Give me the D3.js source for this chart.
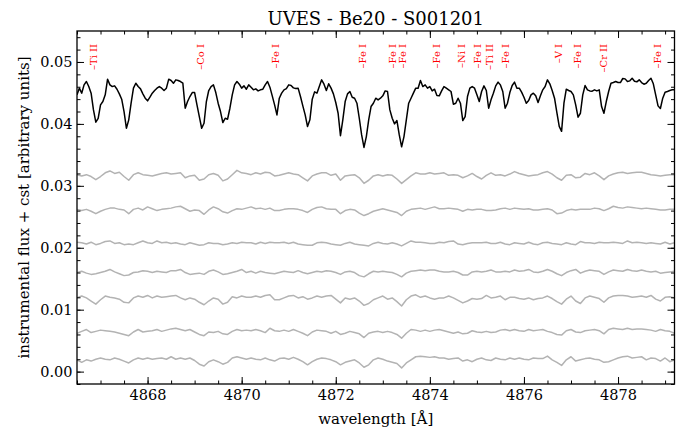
<!DOCTYPE html>
<html><head><meta charset="utf-8">
<script src="https://cdn.jsdelivr.net/npm/d3@7"></script>
<style>body{margin:0;background:#fff} svg text{font-family:"DejaVu Serif",serif}</style>
</head><body><svg id="c" width="686" height="430"></svg>
<script>
// ---- data ----
const titleText = "UVES - Be20 - S001201";
const xLabelText = "wavelength [Å]";
const yLabelText = "instrumental flux + cst [arbitrary units]";
const xMajorTicks = [4868, 4870, 4872, 4874, 4876, 4878];
const yMajorTicks = [0.00, 0.01, 0.02, 0.03, 0.04, 0.05];
const xDomain = [4866.5, 4879.2];
const yDomain = [-0.002, 0.055];

// sampling grids (start, step) of the spectra
const meanStart = 4866.5, meanStep = 0.05;
const expStart = 4866.5, expStep = 0.1;

const lineNames = ["Ti II","Co I","Fe I","Fe I","Fe I","Fe I","Fe I","Ni I","Fe I","Ti II","Fe I","V I","Fe I","Cr II","Fe I"];
const lineWaves = [4866.86,4869.13,4870.72,4872.56,4873.20,4873.41,4874.14,4874.68,4875.02,4875.26,4875.60,4876.74,4877.13,4877.69,4878.84];
const labelTop = 0.0529;

const meanFlux = [
0.04469,0.04577,0.04496,0.0463,0.04684,0.04603,0.04496,0.04226,0.04027,0.04091,
0.04307,0.04361,0.04469,0.04722,0.0463,0.04603,0.04614,0.0456,0.04485,0.04399,
0.04199,0.0393,0.04065,0.04334,0.04577,0.04657,0.04603,0.04566,0.04485,0.04415,
0.04372,0.04431,0.04496,0.04539,0.04577,0.04603,0.04577,0.04539,0.04577,0.04722,
0.04701,0.04657,0.04711,0.04701,0.04684,0.04657,0.04253,0.04361,0.04442,0.04506,
0.04506,0.04307,0.04118,0.0393,0.04011,0.04361,0.04539,0.04603,0.0463,0.04506,
0.04334,0.04199,0.04021,0.04091,0.04075,0.04253,0.04469,0.0463,0.04684,0.04641,
0.04577,0.04614,0.0456,0.0463,0.04593,0.0455,0.04566,0.04533,0.0455,0.0456,
0.0463,0.04684,0.04593,0.04453,0.04307,0.04145,0.04415,0.04496,0.0455,0.04571,
0.0463,0.0462,0.04582,0.04571,0.04577,0.04442,0.04291,0.04145,0.03957,0.04065,
0.04399,0.04517,0.04496,0.04603,0.04711,0.04641,0.04539,0.04647,0.04577,0.04485,
0.04345,0.04172,0.0381,0.04065,0.04361,0.04485,0.04523,0.04431,0.04415,0.04334,
0.04091,0.03822,0.0362,0.03795,0.04065,0.0428,0.04334,0.04415,0.04388,0.04415,
0.04453,0.04533,0.04523,0.04226,0.04091,0.04,0.04054,0.03822,0.0363,0.03795,
0.04065,0.04334,0.04415,0.04496,0.04577,0.04577,0.04701,0.04603,0.0463,0.04577,
0.04603,0.04533,0.0456,0.04458,0.04453,0.04533,0.04603,0.04577,0.0455,0.04523,
0.04318,0.04334,0.04415,0.04334,0.04054,0.04118,0.04442,0.04577,0.04603,0.04577,
0.04469,0.04361,0.04523,0.04614,0.04539,0.04253,0.04388,0.04496,0.04614,0.04674,
0.0463,0.04523,0.04253,0.04334,0.04506,0.0462,0.04674,0.04577,0.04577,0.04512,
0.04431,0.04334,0.04377,0.04469,0.04496,0.04453,0.04345,0.04453,0.0455,0.04603,
0.04711,0.04647,0.04539,0.04415,0.04183,0.0396,0.0388,0.04334,0.0456,0.04539,
0.04523,0.04469,0.04307,0.04108,0.04172,0.04469,0.0462,0.0455,0.04533,0.04528,
0.0455,0.04533,0.0455,0.0428,0.04172,0.04361,0.04523,0.04657,0.04668,0.04684,
0.04668,0.04668,0.04733,0.04727,0.04684,0.04695,0.04738,0.0469,0.04679,0.04711,
0.04668,0.04641,0.04657,0.04701,0.04738,0.04647,0.04469,0.04291,0.04248,0.04415,
0.04512,0.04523,0.04539,0.0455,0.0455
];

const exp1 = [
0.0318,0.0316,0.0318,0.0315,0.0310,0.0315,0.0321,0.0324,0.0320,0.0322,
0.0315,0.0309,0.0318,0.0321,0.0318,0.0317,0.0316,0.0318,0.0320,0.0321,
0.0319,0.0320,0.0321,0.0313,0.0316,0.0317,0.0309,0.0311,0.0318,0.0320,
0.0317,0.0308,0.0311,0.0318,0.0325,0.0321,0.0320,0.0318,0.0321,0.0319,
0.0322,0.0321,0.0316,0.0317,0.0319,0.0321,0.0319,0.0318,0.0313,0.0308,
0.0316,0.0319,0.0321,0.0321,0.0317,0.0319,0.0309,0.0316,0.0317,0.0318,
0.0313,0.0304,0.0309,0.0316,0.0318,0.0316,0.0318,0.0317,0.0311,0.0304,
0.0310,0.0316,0.0321,0.0319,0.0319,0.0321,0.0319,0.0320,0.0321,0.0317,
0.0318,0.0317,0.0313,0.0316,0.0320,0.0315,0.0311,0.0317,0.0321,0.0317,
0.0318,0.0316,0.0319,0.0323,0.0320,0.0318,0.0316,0.0317,0.0318,0.0321,
0.0323,0.0319,0.0313,0.0309,0.0317,0.0318,0.0313,0.0314,0.0320,0.0318,
0.0321,0.0316,0.0310,0.0316,0.0319,0.0321,0.0322,0.0320,0.0321,0.0322,
0.0322,0.0320,0.0318,0.0317,0.0316,0.0317,0.0318,0.0318
];
const exp2 = [
0.0262,0.0260,0.0262,0.0259,0.0255,0.0259,0.0262,0.0264,0.0264,0.0262,
0.0261,0.0255,0.0262,0.0264,0.0261,0.0266,0.0263,0.0260,0.0262,0.0263,
0.0264,0.0266,0.0267,0.0263,0.0259,0.0261,0.0260,0.0254,0.0261,0.0266,
0.0263,0.0258,0.0256,0.0260,0.0263,0.0262,0.0264,0.0266,0.0263,0.0264,
0.0262,0.0264,0.0260,0.0260,0.0262,0.0263,0.0263,0.0262,0.0260,0.0257,
0.0262,0.0265,0.0266,0.0263,0.0262,0.0262,0.0255,0.0260,0.0262,0.0261,
0.0256,0.0252,0.0255,0.0259,0.0261,0.0263,0.0261,0.0259,0.0257,0.0252,
0.0259,0.0262,0.0263,0.0264,0.0262,0.0264,0.0266,0.0263,0.0263,0.0264,
0.0263,0.0262,0.0259,0.0262,0.0261,0.0262,0.0262,0.0260,0.0260,0.0261,
0.0263,0.0264,0.0262,0.0264,0.0263,0.0262,0.0263,0.0261,0.0261,0.0262,
0.0263,0.0261,0.0255,0.0256,0.0260,0.0262,0.0261,0.0262,0.0262,0.0262,
0.0264,0.0263,0.0260,0.0263,0.0267,0.0265,0.0264,0.0266,0.0265,0.0264,
0.0263,0.0264,0.0263,0.0262,0.0261,0.0261,0.0262,0.0262
];
const exp3 = [
0.0209,0.0208,0.0206,0.0209,0.0205,0.0207,0.0210,0.0211,0.0207,0.0208,
0.0205,0.0206,0.0205,0.0208,0.0211,0.0208,0.0207,0.0211,0.0208,0.0209,
0.0207,0.0208,0.0206,0.0205,0.0208,0.0206,0.0204,0.0205,0.0208,0.0207,
0.0207,0.0205,0.0206,0.0208,0.0207,0.0209,0.0208,0.0208,0.0206,0.0209,
0.0207,0.0209,0.0208,0.0208,0.0209,0.0207,0.0209,0.0206,0.0205,0.0204,
0.0204,0.0208,0.0209,0.0208,0.0206,0.0205,0.0204,0.0207,0.0209,0.0206,
0.0205,0.0204,0.0203,0.0207,0.0209,0.0207,0.0206,0.0208,0.0206,0.0203,
0.0207,0.0211,0.0209,0.0209,0.0208,0.0207,0.0207,0.0209,0.0208,0.0210,
0.0211,0.0206,0.0205,0.0207,0.0208,0.0208,0.0208,0.0209,0.0207,0.0207,
0.0209,0.0206,0.0205,0.0208,0.0207,0.0206,0.0209,0.0206,0.0205,0.0208,
0.0209,0.0207,0.0206,0.0205,0.0208,0.0206,0.0205,0.0210,0.0208,0.0208,
0.0207,0.0209,0.0208,0.0208,0.0209,0.0208,0.0207,0.0211,0.0208,0.0209,
0.0208,0.0207,0.0208,0.0207,0.0206,0.0209,0.0206,0.0208
];
const exp4 = [
0.0160,0.0162,0.0159,0.0157,0.0158,0.0160,0.0162,0.0165,0.0161,0.0158,
0.0155,0.0156,0.0160,0.0161,0.0163,0.0162,0.0160,0.0162,0.0161,0.0160,
0.0163,0.0163,0.0165,0.0160,0.0157,0.0158,0.0159,0.0157,0.0162,0.0164,
0.0161,0.0157,0.0158,0.0160,0.0162,0.0165,0.0160,0.0162,0.0159,0.0162,
0.0160,0.0159,0.0158,0.0160,0.0162,0.0161,0.0160,0.0163,0.0160,0.0158,
0.0160,0.0162,0.0161,0.0163,0.0162,0.0160,0.0157,0.0161,0.0162,0.0160,
0.0155,0.0153,0.0158,0.0162,0.0161,0.0162,0.0161,0.0160,0.0157,0.0153,
0.0159,0.0162,0.0163,0.0164,0.0163,0.0164,0.0164,0.0162,0.0161,0.0161,
0.0162,0.0160,0.0156,0.0156,0.0161,0.0162,0.0161,0.0162,0.0164,0.0161,
0.0161,0.0162,0.0161,0.0164,0.0162,0.0163,0.0165,0.0161,0.0160,0.0162,
0.0165,0.0162,0.0158,0.0155,0.0160,0.0163,0.0165,0.0159,0.0162,0.0164,
0.0163,0.0162,0.0157,0.0161,0.0164,0.0163,0.0162,0.0165,0.0163,0.0162,
0.0164,0.0162,0.0161,0.0162,0.0159,0.0160,0.0161,0.0162
];
const exp5 = [
0.0119,0.0122,0.0119,0.0114,0.0109,0.0116,0.0122,0.0120,0.0119,0.0117,
0.0112,0.0111,0.0119,0.0122,0.0120,0.0123,0.0119,0.0122,0.0120,0.0121,
0.0122,0.0123,0.0119,0.0116,0.0119,0.0117,0.0112,0.0108,0.0114,0.0119,
0.0117,0.0109,0.0112,0.0121,0.0119,0.0122,0.0120,0.0120,0.0122,0.0120,
0.0123,0.0124,0.0116,0.0116,0.0119,0.0122,0.0123,0.0119,0.0121,0.0117,
0.0119,0.0122,0.0120,0.0122,0.0123,0.0117,0.0111,0.0119,0.0117,0.0119,
0.0114,0.0107,0.0110,0.0116,0.0119,0.0122,0.0117,0.0119,0.0113,0.0106,
0.0116,0.0122,0.0124,0.0120,0.0122,0.0119,0.0117,0.0119,0.0119,0.0122,
0.0119,0.0115,0.0111,0.0114,0.0118,0.0117,0.0118,0.0123,0.0119,0.0120,
0.0122,0.0116,0.0120,0.0120,0.0118,0.0117,0.0119,0.0116,0.0118,0.0119,
0.0122,0.0118,0.0113,0.0109,0.0117,0.0122,0.0114,0.0110,0.0119,0.0122,
0.0120,0.0118,0.0112,0.0119,0.0122,0.0123,0.0123,0.0122,0.0120,0.0121,
0.0122,0.0120,0.0123,0.0117,0.0114,0.0120,0.0121,0.0119
];
const exp6 = [
0.0062,0.0065,0.0068,0.0063,0.0065,0.0067,0.0066,0.0065,0.0064,0.0062,
0.0060,0.0058,0.0064,0.0068,0.0064,0.0065,0.0066,0.0068,0.0065,0.0067,
0.0069,0.0070,0.0068,0.0066,0.0068,0.0064,0.0060,0.0058,0.0064,0.0063,
0.0065,0.0061,0.0060,0.0065,0.0068,0.0066,0.0067,0.0066,0.0068,0.0066,
0.0063,0.0070,0.0066,0.0065,0.0067,0.0065,0.0068,0.0065,0.0062,0.0058,
0.0064,0.0067,0.0066,0.0065,0.0062,0.0065,0.0060,0.0062,0.0065,0.0063,
0.0061,0.0055,0.0062,0.0064,0.0065,0.0063,0.0065,0.0063,0.0060,0.0054,
0.0062,0.0068,0.0067,0.0065,0.0067,0.0065,0.0067,0.0068,0.0066,0.0064,
0.0062,0.0064,0.0061,0.0062,0.0066,0.0064,0.0063,0.0065,0.0063,0.0064,
0.0067,0.0068,0.0066,0.0068,0.0066,0.0065,0.0068,0.0066,0.0067,0.0068,
0.0065,0.0063,0.0060,0.0059,0.0066,0.0068,0.0064,0.0063,0.0066,0.0067,
0.0068,0.0066,0.0061,0.0068,0.0070,0.0069,0.0068,0.0070,0.0068,0.0069,
0.0069,0.0068,0.0067,0.0065,0.0068,0.0066,0.0065,0.0062
];
const exp7 = [
0.0019,0.0015,0.0019,0.0017,0.0020,0.0022,0.0020,0.0019,0.0022,0.0020,
0.0017,0.0014,0.0019,0.0022,0.0020,0.0022,0.0020,0.0021,0.0022,0.0020,
0.0024,0.0020,0.0022,0.0020,0.0022,0.0018,0.0012,0.0009,0.0016,0.0019,
0.0016,0.0012,0.0015,0.0022,0.0024,0.0022,0.0020,0.0022,0.0020,0.0019,
0.0022,0.0019,0.0017,0.0021,0.0022,0.0020,0.0023,0.0020,0.0016,0.0011,
0.0016,0.0020,0.0022,0.0021,0.0019,0.0016,0.0011,0.0015,0.0017,0.0019,
0.0014,0.0007,0.0011,0.0019,0.0022,0.0020,0.0017,0.0015,0.0013,0.0006,
0.0014,0.0019,0.0024,0.0025,0.0024,0.0023,0.0024,0.0022,0.0022,0.0020,
0.0021,0.0022,0.0017,0.0019,0.0016,0.0020,0.0022,0.0019,0.0018,0.0022,
0.0020,0.0019,0.0022,0.0020,0.0022,0.0020,0.0019,0.0022,0.0021,0.0021,
0.0025,0.0019,0.0015,0.0010,0.0019,0.0024,0.0017,0.0019,0.0021,0.0022,
0.0020,0.0019,0.0015,0.0016,0.0019,0.0022,0.0024,0.0025,0.0022,0.0023,
0.0024,0.0019,0.0022,0.0021,0.0017,0.0022,0.0016,0.0019
];
const exposures = [exp1, exp2, exp3, exp4, exp5, exp6, exp7];

// ---- drawing ----
const W = 686, H = 430;
const M = {l: 77, r: 674.5, t: 31, b: 384};
const svg = d3.select("#c");
const x = d3.scaleLinear().domain(xDomain).range([M.l, M.r]);
const y = d3.scaleLinear().domain(yDomain).range([M.b, M.t]);

svg.append("defs").append("clipPath").attr("id", "clip")
  .append("rect").attr("x", M.l).attr("y", M.t).attr("width", M.r - M.l).attr("height", M.b - M.t);

const plot = svg.append("g").attr("clip-path", "url(#clip)");

function lineFor(start, step) {
  return d3.line().x((d, i) => x(start + i * step)).y(d => y(d));
}
const expLine = lineFor(expStart, expStep);
exposures.forEach(s => {
  plot.append("path").attr("d", expLine(s)).attr("fill", "none")
    .attr("stroke", "#b3b3b3").attr("stroke-width", 1.5).attr("stroke-linejoin", "round");
});
plot.append("path").attr("d", lineFor(meanStart, meanStep)(meanFlux)).attr("fill", "none")
  .attr("stroke", "#000").attr("stroke-width", 1.5).attr("stroke-linejoin", "round");

// line identifications
lineWaves.forEach((w, i) => {
  svg.append("text")
    .attr("transform", `translate(${x(w)},${y(labelTop)}) rotate(-90)`)
    .attr("text-anchor", "end").attr("dy", "0.35em")
    .attr("fill", "#ff0000").attr("font-size", 10)
    .text("\u2013" + lineNames[i]);
});

// axes
const xMinor = d3.range(xDomain[0], xDomain[1] + 1e-9, 0.5);
const yMinor = d3.range(-0.002, 0.0551, 0.002);
function styleAxis(g) {
  g.select(".domain").remove();
  g.selectAll("line").attr("stroke", "#000").attr("stroke-width", 1);
  g.attr("font-family", "DejaVu Serif").attr("font-size", 14.5);
  g.selectAll("text").attr("fill", "#000");
}
svg.append("g").attr("transform", `translate(0,${M.b})`)
  .call(d3.axisBottom(x).tickValues(xMinor).tickSize(-3.5).tickFormat("")).call(styleAxis);
svg.append("g").attr("transform", `translate(0,${M.b})`)
  .call(d3.axisBottom(x).tickValues(xMajorTicks).tickSize(-7).tickPadding(5.5).tickFormat(d3.format("d"))).call(styleAxis);
svg.append("g").attr("transform", `translate(0,${M.t})`)
  .call(d3.axisTop(x).tickValues(xMinor).tickSize(-3.5).tickFormat("")).call(styleAxis);
svg.append("g").attr("transform", `translate(0,${M.t})`)
  .call(d3.axisTop(x).tickValues(xMajorTicks).tickSize(-7).tickFormat("")).call(styleAxis);
svg.append("g").attr("transform", `translate(${M.l},0)`)
  .call(d3.axisLeft(y).tickValues(yMinor).tickSize(-3.5).tickFormat("")).call(styleAxis);
svg.append("g").attr("transform", `translate(${M.l},0)`)
  .call(d3.axisLeft(y).tickValues(yMajorTicks).tickSize(-7).tickPadding(4.5).tickFormat(d3.format(".2f"))).call(styleAxis);
svg.append("g").attr("transform", `translate(${M.r},0)`)
  .call(d3.axisRight(y).tickValues(yMinor).tickSize(-3.5).tickFormat("")).call(styleAxis);
svg.append("g").attr("transform", `translate(${M.r},0)`)
  .call(d3.axisRight(y).tickValues(yMajorTicks).tickSize(-7).tickFormat("")).call(styleAxis);

// frame
svg.append("rect").attr("x", M.l).attr("y", M.t).attr("width", M.r - M.l).attr("height", M.b - M.t)
  .attr("fill", "none").attr("stroke", "#000").attr("stroke-width", 1.3);

// title and labels
svg.append("text").attr("x", (M.l + M.r) / 2).attr("y", 25).attr("text-anchor", "middle")
  .attr("font-size", 18).attr("fill", "#000").text(titleText);
svg.append("text").attr("x", (M.l + M.r) / 2).attr("y", 424).attr("text-anchor", "middle")
  .attr("font-size", 15).attr("fill", "#000").text(xLabelText);
svg.append("text").attr("transform", `translate(29,${(M.t + M.b) / 2}) rotate(-90)`)
  .attr("text-anchor", "middle").attr("font-size", 15).attr("fill", "#000").text(yLabelText);
</script>
</body></html>
